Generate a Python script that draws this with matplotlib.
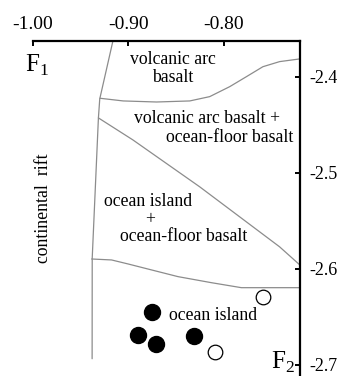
import matplotlib
matplotlib.use("Agg")
import matplotlib.pyplot as plt

plt.rcParams['font.family'] = ['Liberation Serif', 'DejaVu Serif']
plt.rcParams['axes.unicode_minus'] = False

# field boundaries (F1, F2)
rift_x = [-0.9162, -0.9300, -0.9314, -0.9379, -0.9380]
rift_y = [-2.3625, -2.4229, -2.4427, -2.5889, -2.6938]

arc_x = [-0.9298, -0.9054, -0.8705, -0.8356, -0.8147, -0.7937, -0.7762, -0.7589, -0.7414, -0.7204]
arc_y = [-2.4222, -2.4250, -2.4261, -2.4250, -2.4205, -2.4101, -2.3997, -2.3893, -2.3840, -2.3812]

diag_x = [-0.9314, -0.8953, -0.8251, -0.7414, -0.7204]
diag_y = [-2.4427, -2.4656, -2.5146, -2.5771, -2.5958]

oib_x = [-0.9385, -0.9176, -0.9002, -0.8757, -0.8479, -0.8129, -0.7815, -0.7204]
oib_y = [-2.5898, -2.5908, -2.5950, -2.6012, -2.6082, -2.6145, -2.6197, -2.6197]

# samples
filled_x = [-0.8757, -0.8897, -0.8715, -0.8314]
filled_y = [-2.6455, -2.6688, -2.6784, -2.6705]
open_x = [-0.7588, -0.8094]
open_y = [-2.6299, -2.6872]

xticks = [-1.00, -0.90, -0.80]
xlabels = ['-1.00', '-0.90', '-0.80']
yticks = [-2.4, -2.5, -2.6, -2.7]
ylabels = ['-2.4', '-2.5', '-2.6', '-2.7']

fig = plt.figure(figsize=(3.38, 3.76), dpi=100)
ax = fig.add_axes([33/338, 0.0, 267/338, 1 - 41/376])

lc = '#8c8c8c'
for xs, ys in [(rift_x, rift_y), (arc_x, arc_y), (diag_x, diag_y), (oib_x, oib_y)]:
    ax.plot(xs, ys, color=lc, lw=0.9, solid_capstyle='round')

ax.plot(filled_x, filled_y, 'o', ms=11.5, color='black', ls='none')
ax.plot(open_x, open_y, 'o', ms=10.5, mfc='white', mec='black', mew=0.9, ls='none')

ax.set_xlim(-1.00, -0.72)
ax.set_ylim(-2.7118, -2.3625)

ax.xaxis.tick_top()
ax.yaxis.tick_right()
ax.set_xticks(xticks)
ax.set_xticklabels(xlabels)
ax.set_yticks(yticks)
ax.set_yticklabels(ylabels)
ax.tick_params(direction='in', length=3.5, width=1.4, pad=6)
ax.tick_params(axis='x', labelsize=14)
ax.tick_params(axis='y', labelsize=13, pad=7)

for s in ['left', 'bottom']:
    ax.spines[s].set_visible(False)
for s in ['top', 'right']:
    ax.spines[s].set_linewidth(1.6)

fs = 12.8
ax.text(-0.8537, -2.3823, 'volcanic arc', ha='center', va='center', fontsize=fs)
ax.text(-0.8537, -2.4007, 'basalt', ha='center', va='center', fontsize=fs)
ax.text(-0.8173, -2.4428, 'volcanic arc basalt +', ha='center', va='center', fontsize=fs)
ax.text(-0.7942, -2.4636, 'ocean-floor basalt', ha='center', va='center', fontsize=fs)
ax.text(-0.8796, -2.5300, 'ocean island', ha='center', va='center', fontsize=fs)
ax.text(-0.8775, -2.5491, '+', ha='center', va='center', fontsize=fs)
ax.text(-0.8416, -2.5665, 'ocean-floor basalt', ha='center', va='center', fontsize=fs)
ax.text(-0.8110, -2.6482, 'ocean island', ha='center', va='center', fontsize=fs)
ax.text(-0.9895, -2.5366, 'continental  rift', ha='center', va='center',
        rotation=90, fontsize=fs)

ax.text(-1.0084, -2.3880, r'F$_{\mathregular{1}}$', ha='left', va='center', fontsize=18)
ax.text(-0.7506, -2.7105, r'F$_{\mathregular{2}}$', ha='left', va='bottom', fontsize=18)

fig.savefig('out.png', dpi=100)
